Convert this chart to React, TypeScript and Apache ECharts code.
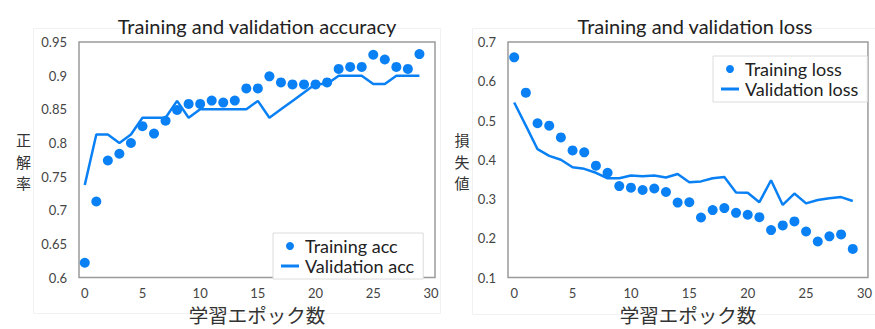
import React, { useEffect, useRef } from "react";
import * as echarts from "echarts";

const epochs = [0, 1, 2, 3, 4, 5, 6, 7, 8, 9, 10, 11, 12, 13, 14, 15, 16, 17, 18, 19, 20, 21, 22, 23, 24, 25, 26, 27, 28, 29];
const trainAcc = [0.622, 0.713, 0.774, 0.784, 0.8, 0.825, 0.814, 0.833, 0.849, 0.858, 0.858, 0.863, 0.86, 0.863, 0.881, 0.881, 0.899, 0.89, 0.887, 0.887, 0.887, 0.89, 0.91, 0.913, 0.913, 0.931, 0.924, 0.913, 0.91, 0.932];
const valAcc = [0.7375, 0.8125, 0.8125, 0.8, 0.8125, 0.8375, 0.8375, 0.8375, 0.8625, 0.8375, 0.85, 0.85, 0.85, 0.85, 0.85, 0.8625, 0.8375, 0.85, 0.8625, 0.875, 0.8875, 0.8875, 0.9, 0.9, 0.9, 0.8875, 0.8875, 0.9, 0.9, 0.9];
const trainLoss = [0.661, 0.571, 0.493, 0.487, 0.457, 0.424, 0.419, 0.385, 0.367, 0.333, 0.329, 0.323, 0.327, 0.318, 0.291, 0.292, 0.253, 0.272, 0.277, 0.265, 0.26, 0.254, 0.221, 0.233, 0.243, 0.2175, 0.192, 0.205, 0.21, 0.173];
const valLoss = [0.546, 0.487, 0.427, 0.41, 0.4, 0.381, 0.377, 0.367, 0.353, 0.353, 0.36, 0.358, 0.36, 0.355, 0.364, 0.343, 0.345, 0.353, 0.356, 0.317, 0.316, 0.292, 0.348, 0.285, 0.314, 0.289, 0.2975, 0.302, 0.305, 0.295];
const xTicks = [0, 5, 10, 15, 20, 25, 30];
const accYLabel = ["正", "解", "率"];
const lossYLabel = ["損", "失", "値"];

const BLUE = "#0a80f5";
const LATO = "Lato, 'Noto Sans', sans-serif";
const CJK = "'Noto Sans CJK JP', sans-serif";

export default function App() {
  const ref = useRef<HTMLDivElement>(null);
  useEffect(() => {
    if (!ref.current) return;
    const chart = echarts.init(ref.current, null, { renderer: "svg" });
    const pair = (ys: number[]) => epochs.map((e, i) => [e, ys[i]]);
    const xAxisBase = (gridIndex: number, min: number, max: number) => ({
      type: "value",
      gridIndex,
      min,
      max,
      axisLine: { show: false },
      axisTick: { show: false },
      splitLine: { show: false },
      axisLabel: {
        customValues: xTicks,
        color: "#444",
        fontFamily: LATO,
        fontSize: 13,
        margin: 9,
      },
      name: "学習エポック数",
      nameLocation: "middle",
      nameGap: 25,
      nameTextStyle: { fontFamily: CJK, fontSize: 19.5, color: "#333" },
    });
    const yAxisBase = (gridIndex: number, min: number, max: number, interval: number) => ({
      type: "value",
      gridIndex,
      min,
      max,
      interval,
      axisLine: { show: false },
      axisTick: { show: false },
      splitLine: { show: false },
      axisLabel: { color: "#444", fontFamily: LATO, fontSize: 13, margin: 12 },
    });
    const legendBase = {
      orient: "vertical",
      backgroundColor: "#fff",
      borderColor: "#dcdcdc",
      borderWidth: 1,
      borderRadius: 0,
      padding: [4, 9, 4, 8],
      itemWidth: 18,
      itemHeight: 8,
      itemGap: 2,
      textStyle: { fontFamily: LATO, fontSize: 18, color: "#222", padding: [0, 0, 0, 1] },
    };
    const dotIcon = "circle";
    const lineIcon = "path://M0,0 L18,0 L18,3 L0,3 Z";
    const vText = (chars: string[], x: number, yc: number) =>
      chars.map((c, i) => ({
        type: "text",
        x,
        y: yc + (i - 1) * 21.8,
        style: { text: c, fontFamily: CJK, fontSize: 15, fill: "#333", align: "center", verticalAlign: "middle" },
      }));
    chart.setOption({
      animation: false,
      backgroundColor: "#fff",
      title: [
        { text: "Training and validation accuracy", left: 252, top: 11, textAlign: "center", textStyle: { fontFamily: LATO, fontSize: 20, fontWeight: "normal", color: "#222" } },
        { text: "Training and validation loss", left: 690, top: 11, textAlign: "center", textStyle: { fontFamily: LATO, fontSize: 20, fontWeight: "normal", color: "#222" } },
      ],
      grid: [
        { left: 79, top: 42, width: 356, height: 241, show: true, borderColor: "#9a9a9a", borderWidth: 1.5, backgroundColor: "transparent" },
        { left: 508, top: 42, width: 364, height: 241, show: true, borderColor: "#9a9a9a", borderWidth: 1.5, backgroundColor: "transparent" },
      ],
      xAxis: [xAxisBase(0, -0.5, 30.35), xAxisBase(1, -0.53, 30.3)],
      yAxis: [yAxisBase(0, 0.6, 0.95, 0.05), yAxisBase(1, 0.1, 0.7, 0.1)],
      legend: [
        {
          ...legendBase,
          left: 273,
          top: 233,
          data: [
            { name: "Training acc", icon: dotIcon },
            { name: "Validation acc", icon: lineIcon },
          ],
        },
        {
          ...legendBase,
          left: 713,
          top: 56,
          data: [
            { name: "Training loss", icon: dotIcon },
            { name: "Validation loss", icon: lineIcon },
          ],
        },
      ],
      graphic: [
        { type: "rect", silent: true, z: -10, shape: { x: 33.5, y: 28.5, width: 407, height: 285 }, style: { fill: "none", stroke: "#f1f1f1", lineWidth: 1 } },
        { type: "rect", silent: true, z: -10, shape: { x: 472.5, y: 28.5, width: 403, height: 286 }, style: { fill: "none", stroke: "#f1f1f1", lineWidth: 1 } },
        ...vText(accYLabel, 23.5, 161),
        ...vText(lossYLabel, 462, 161),
      ],
      series: [
        { name: "Training acc", type: "scatter", xAxisIndex: 0, yAxisIndex: 0, data: pair(trainAcc), symbolSize: 10, itemStyle: { color: BLUE, opacity: 1 } },
        { name: "Validation acc", type: "line", xAxisIndex: 0, yAxisIndex: 0, data: pair(valAcc), showSymbol: false, lineStyle: { color: BLUE, width: 2.5 }, itemStyle: { color: BLUE } },
        { name: "Training loss", type: "scatter", xAxisIndex: 1, yAxisIndex: 1, data: pair(trainLoss), symbolSize: 10, itemStyle: { color: BLUE, opacity: 1 } },
        { name: "Validation loss", type: "line", xAxisIndex: 1, yAxisIndex: 1, data: pair(valLoss), showSymbol: false, lineStyle: { color: BLUE, width: 2.5 }, itemStyle: { color: BLUE } },
      ],
    });
    return () => chart.dispose();
  }, []);
  return <div ref={ref} style={{ position: "fixed", left: 0, top: 0, width: 875, height: 329 }} />;
}
